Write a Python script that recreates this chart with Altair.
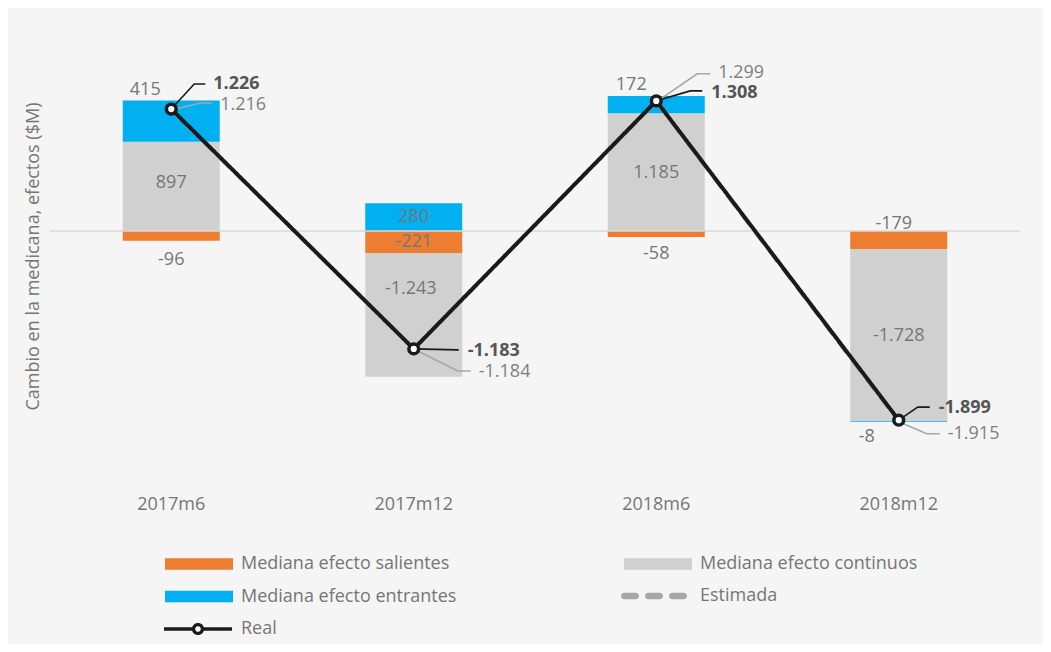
import altair as alt
import pandas as pd

# ---------------- data ----------------
categories = ["2017m6", "2017m12", "2018m6", "2018m12"]
salientes = [-96, -221, -58, -179]
continuos = [897, -1243, 1185, -1728]
entrantes = [415, 280, 172, -8]
estimada = [1216, -1184, 1299, -1915]
real = [1226, -1183, 1308, -1899]

S_SAL = "Mediana efecto salientes"
S_CON = "Mediana efecto continuos"
S_ENT = "Mediana efecto entrantes"
bar_series = [S_SAL, S_CON, S_ENT]
bar_values = [salientes, continuos, entrantes]

# ---------------- style ----------------
FONT = "Open Sans"
FS = 18
TXT = "#767676"
BOLD_TXT = "#555555"
bar_colors = ["#ED7D31", "#D0D0D0", "#00B0F0"]
EST_COLOR = "#A6A6A6"
REAL_COLOR = "#1A1A1A"

# label offsets in pixels (dx, dy) relative to segment centre
bar_label_offsets = {
    S_SAL: [(0, 24), (0, 0), (0, 20), (-5, -16)],
    S_CON: [(0, -3), (-3, -26), (0, 1), (0, 1)],
    S_ENT: [(-26, -31), (0, 0), (-25, -20), (-32, 16)],
}
# leader (ax, ay, bx) and text (dx, dy) offsets relative to the point
real_leader = [(23, -25, 34), (44, 1, 45), (34, -10, 46), (19, -13, 31)]
real_text = [(42, -25), (54, 2), (55, -8), (40, -12)]
est_leader = [(29, -7, 41), (44, 22, 57), (41, -28, 54), (28, 12, 41)]
est_text = [(49, -5), (65, 23), (62, -29), (49, 12)]


def fmt(v):
    return f"{v:,}".replace(",", ".")


# ---------------- tables ----------------
bar_rows = []
for si, (s, vals) in enumerate(zip(bar_series, bar_values)):
    for ci, c in enumerate(categories):
        dx, dy = bar_label_offsets[s][ci]
        bar_rows.append({"cat": c, "serie": s, "value": vals[ci], "ord": si,
                         "label": fmt(vals[ci]), "dx": dx, "dy": dy})
bars_df = pd.DataFrame(bar_rows)

lines_df = pd.DataFrame({
    "cat": categories,
    "estimada": estimada,
    "real": real,
    "tipo_e": ["Estimada"] * 4,
    "tipo_r": ["Real"] * 4,
})

lead_rows = []
lab_rows = []
for kind, vals, leads, texts in (("real", real, real_leader, real_text),
                                 ("est", estimada, est_leader, est_text)):
    for ci, c in enumerate(categories):
        ax, ay, bx = leads[ci]
        for k, (ox, oy) in enumerate([(0, 0), (ax, ay), (bx, ay)]):
            lead_rows.append({"cat": c, "val": vals[ci], "ox": ox, "oy": oy,
                              "id": f"{kind}{ci}", "k": k, "kind": kind})
        tx, ty = texts[ci]
        lab_rows.append({"cat": c, "val": vals[ci], "dx": tx, "dy": ty,
                         "label": fmt(vals[ci]), "kind": kind})
lead_df = pd.DataFrame(lead_rows)
lab_df = pd.DataFrame(lab_rows)

# ---------------- scales ----------------
x_enc = alt.X("cat:N", sort=categories,
              scale=alt.Scale(paddingInner=0.6, paddingOuter=0.3),
              axis=alt.Axis(title=None, labelAngle=0, domain=False, ticks=False,
                            labelPadding=15, labelFontSize=FS, labelColor=TXT,
                            labelFont=FONT))
y_scale = alt.Scale(domain=[-2500, 2000], nice=False, zero=False)
y_axis = alt.Axis(title="Cambio en la medicana, efectos ($M)", labels=False,
                  ticks=False, domain=False, grid=False, titleFontSize=FS,
                  titleColor=TXT, titleFont=FONT, titleFontWeight="normal",
                  titleX=-8, titleY=224, titleAngle=-90, titleAlign="center",
                  titleBaseline="bottom")


def capsule(a, b, r):
    return (f"M{a + r:.3f},{-r:.3f} L{b - r:.3f},{-r:.3f} "
            f"A{r:.3f},{r:.3f} 0 0 1 {b - r:.3f},{r:.3f} "
            f"L{a + r:.3f},{r:.3f} A{r:.3f},{r:.3f} 0 0 1 {a + r:.3f},{-r:.3f} Z")


RECT_PATH = "M-1,-0.17 L1,-0.17 L1,0.17 L-1,0.17 Z"
DASH_PATH = " ".join(capsule(a, b, 0.095) for a, b in
                     [(-1, -0.455), (-0.273, 0.273), (0.455, 1)])
REAL_PATH = ("M-1,0 L-0.13,0 M0.13,0 L1,0 "
             "M0.13,0 A0.13,0.13 0 1,1 -0.13,0 A0.13,0.13 0 1,1 0.13,0")

legend_common = dict(orient="none", title=None, padding=0, labelFont=FONT,
                     labelFontSize=FS, labelColor=TXT, labelLimit=400,
                     clipHeight=24)

stacked = alt.Chart(bars_df).transform_stack(
    stack="value", groupby=["cat"], as_=["v0", "v1"],
    sort=[alt.SortField("ord", order="ascending")]
)

bars = stacked.mark_bar().encode(
    x=x_enc,
    y=alt.Y("v0:Q", scale=y_scale, axis=y_axis),
    y2="v1:Q",
    color=alt.Color("serie:N", scale=alt.Scale(domain=bar_series, range=bar_colors),
                    legend=alt.Legend(
                        legendX=115, legendY=520, columns=2, direction="horizontal",
                        columnPadding=167, rowPadding=8.5,
                        symbolType=RECT_PATH, symbolSize=4624, symbolStrokeWidth=0,
                        labelOffset=8, **legend_common)),
)

bar_labels = stacked.transform_calculate(
    mid="(datum.v0 + datum.v1) / 2"
).mark_text(font=FONT, fontSize=FS, color=TXT, align="center", baseline="middle",
            dx={"expr": "datum.dx"}, dy={"expr": "datum.dy"}).encode(
    x=alt.X("cat:N", sort=categories),
    y=alt.Y("mid:Q"),
    text="label:N",
)

zero = alt.Chart(pd.DataFrame({"z": [0]})).mark_rule(
    color="#D9D9D9", strokeWidth=1.5).encode(y="z:Q")

est_line = alt.Chart(lines_df).mark_line(
    color=EST_COLOR, strokeWidth=3.5, strokeCap="round").encode(
    x=alt.X("cat:N", sort=categories),
    y="estimada:Q",
    strokeDash=alt.StrokeDash("tipo_e:N", scale=alt.Scale(domain=["Estimada"], range=[[12, 11]]),
                              legend=alt.Legend(
                                  legendX=571, legendY=552,
                                  symbolType=DASH_PATH, symbolSize=4356,
                                  symbolStrokeWidth=0, symbolStrokeColor="transparent",
                                  symbolFillColor=EST_COLOR,
                                  labelOffset=13, **legend_common)),
)

real_line = alt.Chart(lines_df).mark_line(color=REAL_COLOR, strokeWidth=4).encode(
    x=alt.X("cat:N", sort=categories),
    y="real:Q",
    strokeDash=alt.StrokeDash("tipo_r:N", scale=alt.Scale(domain=["Real"], range=[[1, 0]]),
                              legend=alt.Legend(
                                  legendX=112, legendY=585,
                                  symbolType=REAL_PATH, symbolSize=4624,
                                  symbolStrokeWidth=3.3, symbolStrokeColor=REAL_COLOR,
                                  symbolFillColor="white",
                                  labelOffset=7, **legend_common)),
)

real_pts = alt.Chart(lines_df).mark_point(
    shape="circle", filled=True, fill="white", stroke=REAL_COLOR, strokeWidth=3.5,
    size=95, opacity=1).encode(
    x=alt.X("cat:N", sort=categories),
    y="real:Q",
)

leaders = alt.Chart(lead_df).mark_line(
    strokeWidth=1.6, xOffset={"expr": "datum.ox"}, yOffset={"expr": "datum.oy"}).encode(
    x=alt.X("cat:N", sort=categories),
    y="val:Q",
    detail="id:N",
    order="k:Q",
    color=alt.Color("kind:N", scale=alt.Scale(domain=["real", "est"],
                                              range=[REAL_COLOR, EST_COLOR]),
                    legend=None),
)

real_labels = alt.Chart(lab_df).transform_filter("datum.kind == 'real'").mark_text(
    font=FONT, fontSize=FS, fontWeight="bold", color=BOLD_TXT, align="left",
    baseline="middle", dx={"expr": "datum.dx"}, dy={"expr": "datum.dy"}).encode(
    x=alt.X("cat:N", sort=categories),
    y="val:Q",
    text="label:N",
)

est_labels = alt.Chart(lab_df).transform_filter("datum.kind == 'est'").mark_text(
    font=FONT, fontSize=FS, color="#7F7F7F", align="left",
    baseline="middle", dx={"expr": "datum.dx"}, dy={"expr": "datum.dy"}).encode(
    x=alt.X("cat:N", sort=categories),
    y="val:Q",
    text="label:N",
)

chart = alt.layer(
    bars, zero, bar_labels, est_line, real_line, leaders, real_pts, real_labels, est_labels
).resolve_scale(
    strokeDash="independent", color="independent"
).resolve_legend(
    strokeDash="independent", color="independent"
).properties(
    width=970, height=448,
    autosize=alt.AutoSizeParams(type="none"),
    padding={"left": 42, "top": 24, "right": 23, "bottom": 164},
    background="#F5F5F5",
).configure(
    font=FONT
).configure_view(
    stroke=None
)

chart.save("out.html", embed_options={"renderer": "svg", "actions": False})
